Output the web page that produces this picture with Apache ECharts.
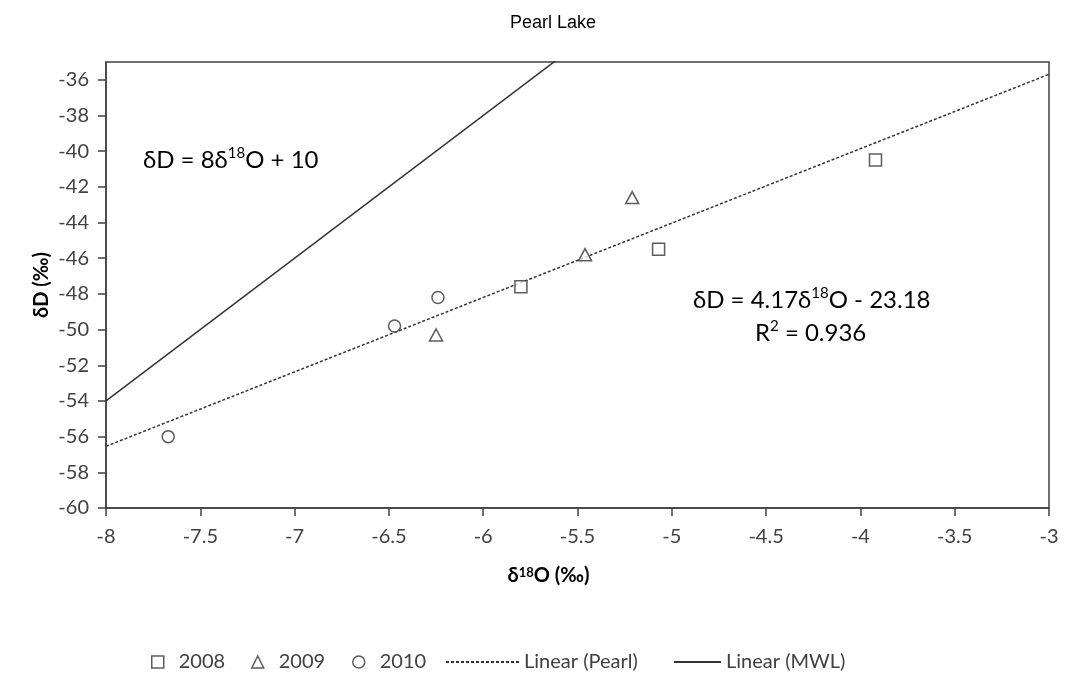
<!DOCTYPE html>
<html>
<head>
<meta charset="utf-8">
<title>Pearl Lake</title>
<script src="https://cdn.jsdelivr.net/npm/echarts@6/dist/echarts.min.js"></script>
<style>
  html, body { margin: 0; padding: 0; background: #fff; }
  #chart { width: 1067px; height: 674px; }
</style>
</head>
<body>
<div id="chart"></div>
<script>
// δ18O / δD pairs, by sampling year
const years = ['2008', '2009', '2010'];
const pts2008 = [[-5.80, -47.6], [-5.07, -45.5], [-3.92, -40.5]];
const pts2009 = [[-5.21, -42.6], [-5.46, -45.8], [-6.25, -50.3]];
const pts2010 = [[-6.24, -48.2], [-6.47, -49.8], [-7.67, -56.0]];

// Fitted lines: [slope, intercept]
const pearlFit = [4.17, -23.18];
const mwlFit = [8, 10];

// Axis ranges and tick labels
const xTicks = [-8, -7.5, -7, -6.5, -6, -5.5, -5, -4.5, -4, -3.5, -3];
const yTicks = [-60, -58, -56, -54, -52, -50, -48, -46, -44, -42, -40, -38, -36];
const xRange = [-8, -3];
const yRange = [-60, -35];

const font = 'Lato, "Open Sans", sans-serif';
const ink = '#404040';

function lineFrom(fit) {
  return xRange.map(x => [x, fit[0] * x + fit[1]]);
}

const markerStyle = { color: '#ffffff', borderColor: '#333333', borderWidth: 1.5 };

const eqRich = {
  m: { fontFamily: font, fontSize: 24, color: ink, lineHeight: 28 },
  sup: { fontFamily: font, fontSize: 15, color: ink, verticalAlign: 'top', lineHeight: 16 }
};

const chart = echarts.init(document.getElementById('chart'), null, { renderer: 'canvas' });

// one legend block per entry so each sits where it should along the bottom row
function legendAt(name, left, width, pad) {
  return {
    data: [name], left: left, top: 647, itemWidth: width, itemHeight: 12,
    itemGap: 0, selectedMode: false, symbolKeepAspect: true,
    itemStyle: { borderWidth: 1.5 },
    textStyle: { fontFamily: font, fontSize: 20, color: ink, padding: [0, 0, 0, pad] }
  };
}

chart.setOption({
  animation: false,
  backgroundColor: '#ffffff',
  title: {
    text: 'Pearl Lake', left: 548, top: 9, textAlign: 'center',
    textStyle: { fontFamily: 'Liberation Sans, Arial, sans-serif', fontSize: 18, fontWeight: 'normal', color: '#000' }
  },
  grid: {
    left: 106, right: 18, top: 62, bottom: 166,
    show: true, borderColor: ink, borderWidth: 1.5, backgroundColor: 'transparent'
  },
  legend: [
    legendAt('2008', 146, 12, 10),
    legendAt('2009', 246, 12, 10),
    legendAt('2010', 347, 12, 10),
    legendAt('Linear (Pearl)', 440, 73, 0),
    legendAt('Linear (MWL)', 668, 47, 0)
  ],
  xAxis: {
    type: 'value', min: xRange[0], max: xRange[1], interval: 0.5,
    name: '{b|δ}{bs|18}{b|O (‰)}', nameLocation: 'middle', nameGap: 58,
    nameTextStyle: {
      padding: [0, 58, 0, 0],
      rich: {
        b: { fontFamily: font, fontSize: 20, fontWeight: 'bold', color: '#000' },
        bs: { fontFamily: font, fontSize: 13, fontWeight: 'bold', color: '#000', verticalAlign: 'top', lineHeight: 13 }
      }
    },
    axisLine: { show: true, lineStyle: { color: ink, width: 1.5 } },
    axisTick: { show: true, inside: false, length: 8, lineStyle: { color: ink, width: 1.5 }, customValues: xTicks },
    axisLabel: { margin: 19, fontFamily: font, fontSize: 20, color: ink, customValues: xTicks },
    splitLine: { show: false }
  },
  yAxis: {
    type: 'value', min: yRange[0], max: yRange[1], interval: 2,
    name: 'δD (‰)', nameLocation: 'middle', nameGap: 54, nameRotate: 90, nameMoveOverlap: false,
    nameTextStyle: { fontFamily: font, fontSize: 20, fontWeight: 'bold', color: '#000' },
    axisLine: { show: true, lineStyle: { color: ink, width: 1.5 } },
    axisTick: { show: true, inside: false, length: 8, lineStyle: { color: ink, width: 1.5 }, customValues: yTicks },
    axisLabel: { margin: 17, fontFamily: font, fontSize: 20, color: ink, customValues: yTicks },
    splitLine: { show: false }
  },
  series: [
    {
      name: 'Linear (Pearl)', type: 'line', data: lineFrom(pearlFit), symbol: 'none', silent: true,
      itemStyle: { color: 'rgba(0,0,0,0)', borderWidth: 0 },
      lineStyle: { color: '#333333', width: 1.5, type: [3, 2] }, z: 2
    },
    {
      name: 'Linear (MWL)', type: 'line', data: lineFrom(mwlFit), symbol: 'none', silent: true,
      itemStyle: { color: 'rgba(0,0,0,0)', borderWidth: 0 },
      lineStyle: { color: '#333333', width: 1.5, type: 'solid' }, z: 2
    },
    { name: years[0], type: 'scatter', data: pts2008, symbol: 'rect', symbolSize: 12, itemStyle: markerStyle, z: 3 },
    { name: years[1], type: 'scatter', data: pts2009, symbol: 'triangle', symbolSize: [13, 12], itemStyle: markerStyle, z: 3 },
    { name: years[2], type: 'scatter', data: pts2010, symbol: 'circle', symbolSize: 12, itemStyle: markerStyle, z: 3 }
  ],
  graphic: [
    {
      type: 'text', left: 143, top: 146,
      style: { text: '{m|δD = 8δ}{sup|18}{m|O + 10}', rich: eqRich }
    },
    {
      type: 'text', left: 693, top: 286,
      style: { text: '{m|δD = 4.17δ}{sup|18}{m|O - 23.18}', rich: eqRich }
    },
    {
      type: 'text', left: 755, top: 319,
      style: { text: '{m|R}{sup|2}{m| = 0.936}', rich: eqRich }
    }
  ]
});
</script>
</body>
</html>
